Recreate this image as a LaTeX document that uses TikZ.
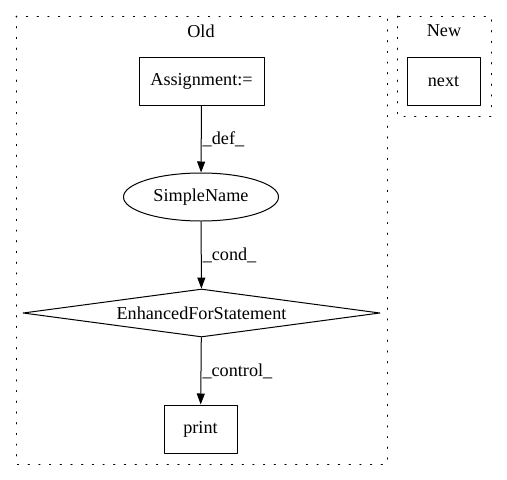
\documentclass[tikz,border=0pt]{standalone}
\usepackage{fontspec}
\setmainfont{Liberation Serif}
\usetikzlibrary{shapes.geometric,arrows.meta}
\tikzset{
	box/.style={draw, rectangle, inner sep=0pt},
	cluster/.style={draw, line cap=round, dash pattern=on 1.2pt off 9.5pt},
	flow/.style={-{Triangle[length=11pt,width=8pt]}},
	lbl/.style={right, inner sep=1pt}
}
\begin{document}
\begin{tikzpicture}[x=1pt, y=-1pt, font=\fontsize{18.2}{20}\selectfont, line width=1pt, line join=round]
	\useasboundingbox (0,0) rectangle (507,480);
	% clusters
	\draw[cluster] (16,16) rectangle (387,464);
	\draw[cluster] (397,16) rectangle (491,116);
	\node (old) at (201,31) {Old};
	\node (new) at (444,31) {New};
	% nodes
	\node[box, minimum width=125pt, minimum height=48pt] (assign) at (201.5,81) {Assignment:=};
	\node[box, minimum width=73pt, minimum height=48pt] (next) at (443.5,81) {next};
	\node[draw, ellipse, inner sep=0pt, minimum width=155pt, minimum height=48pt] (simple) at (201,197) {SimpleName};
	\node[draw, diamond, aspect=7.4, inner sep=0pt, minimum width=357pt, minimum height=48pt] (enh) at (201.5,313) {EnhancedForStatement};
	\node[box, minimum width=73pt, minimum height=48pt] (print) at (200.5,429) {print};
	% edges
	\draw[flow] (assign) -- node[lbl] {\_def\_} (simple);
	\draw[flow] (simple) -- node[lbl] {\_cond\_} (enh);
	\draw[flow] (enh) -- node[lbl] {\_control\_} (print);
\end{tikzpicture}
\end{document}
